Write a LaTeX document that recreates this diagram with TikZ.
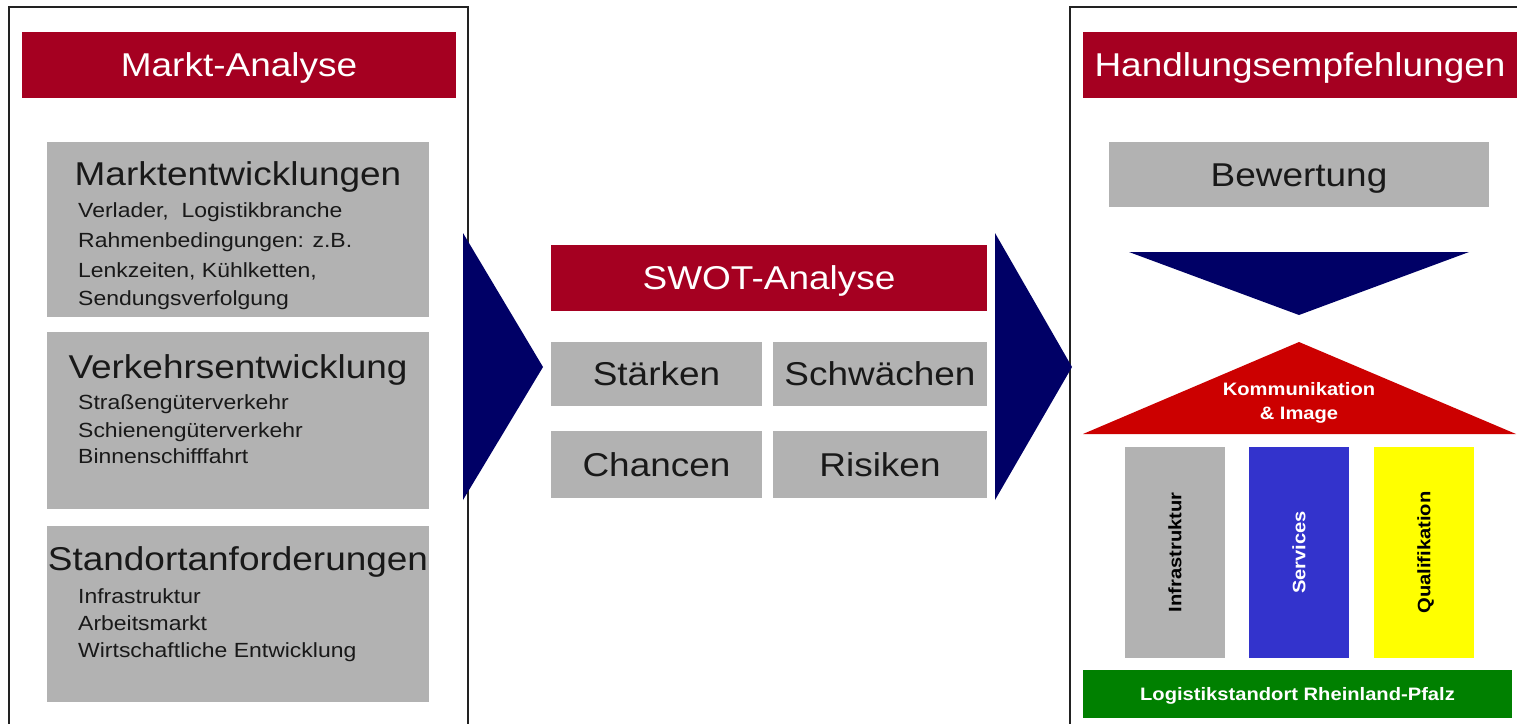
\documentclass[tikz,border=0pt]{standalone}
\usepackage{fontspec}
\setmainfont{Liberation Sans}[FakeStretch=1.12]
\definecolor{hdrred}{HTML}{A50021}
\definecolor{boxgray}{HTML}{B2B2B2}
\definecolor{navyc}{HTML}{000066}
\definecolor{roofred}{HTML}{CC0000}
\definecolor{pblue}{HTML}{3333CC}
\definecolor{pyellow}{HTML}{FFFF00}
\definecolor{pgreen}{HTML}{008000}
\definecolor{framec}{HTML}{222222}
\newcommand\fbig{\fontsize{33}{40}\selectfont}
\newcommand\fsmall{\fontsize{20.5}{24}\selectfont}
\newcommand\fbold{\fontsize{18}{22}\selectfont\bfseries}
\begin{document}
\begin{tikzpicture}[x=1pt,y=-1pt,
  box/.style={inner sep=0pt, outer sep=0pt, anchor=north west},
  hdr/.style={box, fill=hdrred, text=white, font=\fbig, text height=23.6pt, text depth=0pt},
  gbox/.style={box, fill=boxgray, text=black!90, font=\fbig, text height=23.6pt, text depth=0pt},
  title/.style={anchor=base, inner sep=0pt, font=\fbig, text=black!90},
  subline/.style={anchor=base west, inner sep=0pt, font=\fsmall, text=black!90},
  pillar/.style={box, minimum width=100pt, minimum height=211pt},
  ptext/.style={inner sep=0pt, rotate=90, font=\fbold, text height=12.9pt, text depth=0pt},
  btext/.style={anchor=base, inner sep=0pt, font=\fbold, text=white},
  frame/.style={draw=framec, line width=1.6pt}
]
\useasboundingbox (0,0) rectangle (1517,723);
\fill[white] (0,0) rectangle (1517,723);

% frames
\draw[frame] (9,730) -- (9,7) -- (468,7) -- (468,730);
\draw[frame] (1070,730) -- (1070,7) -- (1525,7);

% left column
\node[hdr, minimum width=434pt, minimum height=66pt] (ma) at (22,32) {Markt-Analyse};

\node[gbox, minimum width=382pt, minimum height=175pt] (m1) at (47,142) {};
\node[title] (m1t) at (238,185) {Marktentwicklungen};
\node[subline] (m1a) at (78,217) {Verlader,\ \ Logistikbranche};
\node[subline] (m1b) at (78,247) {Rahmenbedingungen: z.B.};
\node[subline] (m1c) at (78,277) {Lenkzeiten, Kühlketten,};
\node[subline] (m1d) at (78,305) {Sendungsverfolgung};

\node[gbox, minimum width=382pt, minimum height=177pt] (m2) at (47,332) {};
\node[title] (m2t) at (238,378) {Verkehrsentwicklung};
\node[subline] (m2a) at (78,409) {Straßengüterverkehr};
\node[subline] (m2b) at (78,437) {Schienengüterverkehr};
\node[subline] (m2c) at (78,463) {Binnenschifffahrt};

\node[gbox, minimum width=382pt, minimum height=176pt] (m3) at (47,526) {};
\node[title] (m3t) at (238,570) {Standortanforderungen};
\node[subline] (m3a) at (78,603) {Infrastruktur};
\node[subline] (m3b) at (78,630) {Arbeitsmarkt};
\node[subline] (m3c) at (78,657) {Wirtschaftliche Entwicklung};

% chevrons
\fill[navyc] (463,233) -- (543,367) -- (463,500) -- cycle;
\fill[navyc] (995,233) -- (1072,367) -- (995,500) -- cycle;

% SWOT
\node[hdr, minimum width=436pt, minimum height=66pt] (swot) at (551,245) {SWOT-Analyse};
\node[gbox, minimum width=211pt, minimum height=64pt] (s) at (551,342) {Stärken};
\node[gbox, minimum width=214pt, minimum height=64pt] (w) at (773,342) {Schwächen};
\node[gbox, minimum width=211pt, minimum height=67pt] (o) at (551,431) {Chancen};
\node[gbox, minimum width=214pt, minimum height=67pt] (t) at (773,431) {Risiken};

% right column
\node[hdr, minimum width=434pt, minimum height=66pt] (he) at (1083,32) {Handlungsempfehlungen};
\node[gbox, minimum width=380pt, minimum height=65pt] (bw) at (1109,142) {Bewertung};
\fill[navyc] (1129,252) -- (1469,252) -- (1299,315) -- cycle;

\fill[roofred] (1299,342) -- (1516,434) -- (1083,434) -- cycle;
\node[btext] (roof1) at (1299,395) {Kommunikation};
\node[btext] (roof2) at (1299,419) {\& Image};

\node[pillar, fill=boxgray] (p1) at (1125,447) {};
\node[pillar, fill=pblue] (p2) at (1249,447) {};
\node[pillar, fill=pyellow] (p3) at (1374,447) {};
\node[ptext, text=black] (p1t) at (p1.center) {Infrastruktur};
\node[ptext, text=white] (p2t) at (p2.center) {Services};
\node[ptext, text=black] (p3t) at (p3.center) {Qualifikation};

\node[box, fill=pgreen, minimum width=429pt, minimum height=48pt, text=white, font=\fbold, text height=12.9pt, text depth=0pt] (base) at (1083,670) {Logistikstandort Rheinland-Pfalz};
\end{tikzpicture}
\end{document}
